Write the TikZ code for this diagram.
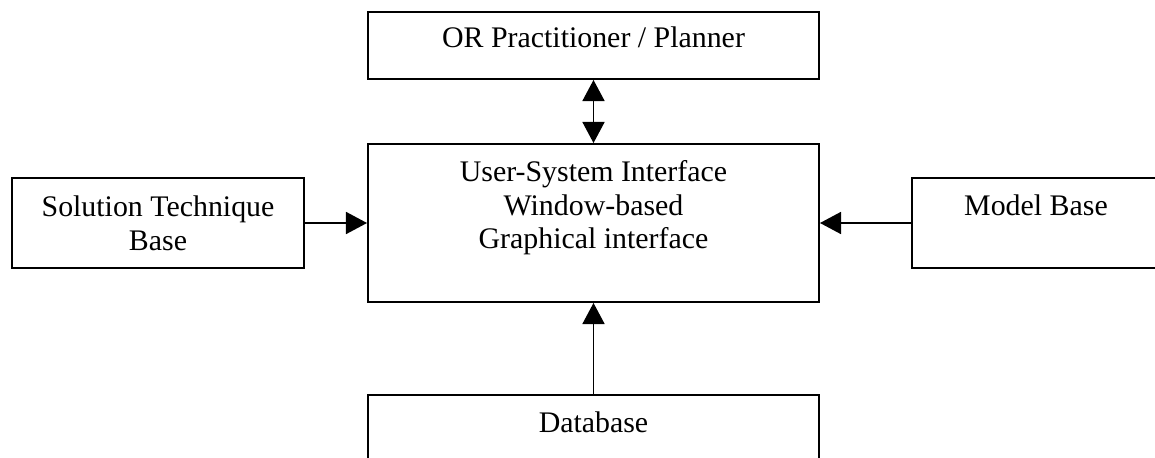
\documentclass[tikz,border=0pt]{standalone}
\usepackage{fontspec}
\setmainfont{Liberation Serif}
\usetikzlibrary{arrows.meta}

\begin{document}
\begin{tikzpicture}[
  box/.style={draw, line width=1.1pt, inner sep=0pt},
  link/.style={line width=1.1pt, -{Triangle[length=12pt,width=12.5pt]}},
  font=\fontsize{17pt}{19.2pt}\selectfont]
\useasboundingbox (0,0) rectangle (23.1,9.14);
\clip (0,0) rectangle (23.1,9.14);
  \node[box, minimum width=9.02cm, minimum height=1.34cm] (planner) at (11.87,8.23) {};
  \node[anchor=base] at ([yshift=-0.72cm]planner.north) {OR Practitioner / Planner};
  \node[box, minimum width=9.02cm, minimum height=3.16cm] (usi) at (11.87,4.68) {};
  \node[anchor=north, align=center] at ([yshift=-0.22cm]usi.north)
    {User-System Interface\\Window-based\\Graphical interface};
  \node[box, minimum width=5.84cm, minimum height=1.8cm, align=center] (technique) at (3.16,4.68)
    {Solution Technique\\Base};
  \node[box, minimum width=4.96cm, minimum height=1.8cm] (models) at (20.72,4.68) {};
  \node[anchor=base] at ([yshift=-0.76cm]models.north) {Model Base};
  \node[box, minimum width=9.02cm, minimum height=1.5cm] (data) at (11.87,0.49) {};
  \node[anchor=base] at ([yshift=-0.76cm]data.north) {Database};
\draw[link, {Triangle[length=12pt,width=12.5pt]}-{Triangle[length=12pt,width=12.5pt]}] (planner) -- (usi);
\draw[link] (technique) -- (usi);
\draw[link] (models) -- (usi);
\draw[link] (data) -- (usi);
\end{tikzpicture}
\end{document}
